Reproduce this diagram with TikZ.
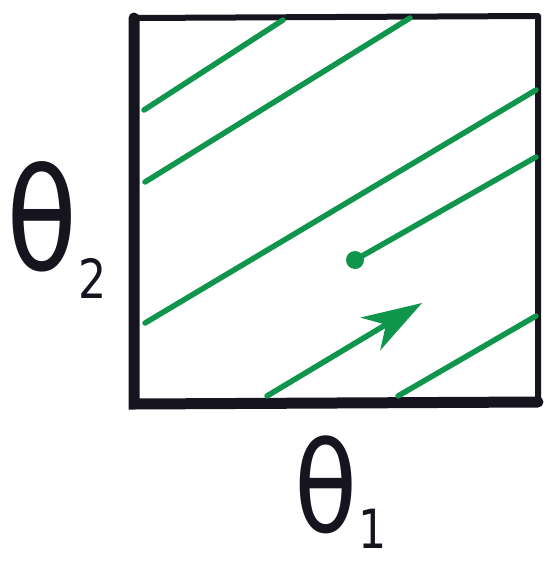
\documentclass[tikz,border=0pt]{standalone}
\usepackage{fontspec}
\newfontfamily\labelfont{DejaVu Sans}
\usetikzlibrary{arrows.meta}
\definecolor{pen}{RGB}{22,20,30}
\definecolor{flow}{RGB}{16,150,76}
\tikzset{
  frame/.style={draw=pen, line width=6pt, line cap=round, line join=round},
  thickedge/.style={draw=pen, line width=11pt, line cap=round},
  flowline/.style={draw=flow, line width=5.5pt, line cap=round},
  axislabel/.style={text=pen, inner sep=0pt, anchor=base west, xscale=0.82},
}
\begin{document}
\begin{tikzpicture}[x=1pt,y=-1pt]
\useasboundingbox[fill=white] (0,0) rectangle (557,563);
% frame
\coordinate (tl) at (134,18);
\coordinate (tr) at (538,16);
\coordinate (br) at (538,402);
\coordinate (bl) at (134,404);
\draw[frame] (tl) -- (tr) -- (br) -- (bl) -- cycle;
\draw[thickedge] (tl) -- (bl) -- (br);
% flow lines
\coordinate (a1) at (144,110); \coordinate (b1) at (283,20);
\coordinate (a2) at (145,182); \coordinate (b2) at (410,18);
\coordinate (a3) at (145,323); \coordinate (b3) at (536,90);
\coordinate (a4) at (355,260); \coordinate (b4) at (536,157);
\coordinate (a5) at (267,396); \coordinate (b5) at (422,303);
\coordinate (a6) at (398,396); \coordinate (b6) at (536,316);
\draw[flowline] (a1) -- (b1);
\draw[flowline] (a2) -- (b2);
\draw[flowline] (a3) -- (b3);
\draw[flowline] (a4) -- (b4);
\fill[flow] (a4) circle (9);
\draw[flowline, -{Stealth[length=60pt,width=38pt,inset=18pt]}] (a5) -- (b5);
\draw[flowline] (a6) -- (b6);
% labels
\node[axislabel] (t2) at (6,270) {\labelfont\fontsize{142}{142}\selectfont θ\kern1pt\raisebox{-28pt}{\fontsize{54}{54}\selectfont 2}};
\node[axislabel] (t1) at (294,532) {\labelfont\fontsize{126}{126}\selectfont θ\kern1pt\raisebox{-16pt}{\fontsize{54}{54}\selectfont 1}};
\end{tikzpicture}
\end{document}
